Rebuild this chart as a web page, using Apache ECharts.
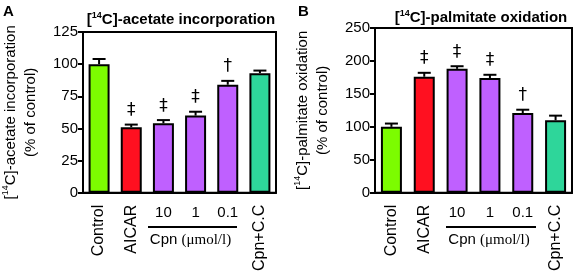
<!DOCTYPE html>
<html>
<head>
<meta charset="utf-8">
<script src="https://cdn.jsdelivr.net/npm/echarts@6/dist/echarts.min.js"></script>
<style>
  html, body { margin: 0; padding: 0; background: #fff; }
  #chart { width: 576px; height: 274px; }
</style>
</head>
<body>
<div id="chart"></div>
<script>
// categories (Cpn doses shown as horizontal labels under a bracket)
const categories = ['Control', 'AICAR', '10', '1', '0.1', 'Cpn+C.C'];
const cpnDoses = ['10', '1', '0.1'];
const barColors = ['#7cfc00', '#ff1020', '#bf60ff', '#bf60ff', '#bf60ff', '#2ed69a'];

// panel A: acetate incorporation (% of control)
const acetateMean = [100, 51, 54, 60, 84, 93];
const acetateErr = [4, 2, 2.5, 3, 3, 2];
const acetateMark = ['', '‡', '‡', '‡', '†', ''];
const acetateTicks = [0, 25, 50, 75, 100, 125];

// panel B: palmitate oxidation (% of control)
const palmitateMean = [100, 176, 188, 174, 121, 110];
const palmitateErr = [5, 6, 4, 5, 5, 7];
const palmitateMark = ['', '‡', '‡', '‡', '†', ''];
const palmitateTicks = [0, 50, 100, 150, 200, 250];

const FONT = 'Liberation Sans, Arial, sans-serif';

const chart = echarts.init(document.getElementById('chart'));

// 标题里的上标 14
const supRich = {
  b: { fontSize: 15, fontWeight: 'bold', fontFamily: FONT, color: '#000', lineHeight: 18 },
  s: { fontSize: 9, fontWeight: 'bold', fontFamily: FONT, color: '#000', verticalAlign: 'top', lineHeight: 18 },
};
const nameRich = {
  n: { fontSize: 15, fontFamily: FONT, color: '#000', lineHeight: 20 },
  s: { fontSize: 9, fontFamily: FONT, color: '#000', verticalAlign: 'top', lineHeight: 20 },
};

function bars(mean, gridIdx) {
  return {
    type: 'bar',
    xAxisIndex: gridIdx * 2,
    yAxisIndex: gridIdx,
    barWidth: 21,
    data: mean.map((v, i) => ({
      value: v,
      itemStyle: { color: barColors[i], borderColor: '#000', borderWidth: 2 },
    })),
    z: 2,
  };
}

function errors(mean, err, mark, gridIdx) {
  return {
    type: 'custom',
    xAxisIndex: gridIdx * 2,
    yAxisIndex: gridIdx,
    z: 3,
    data: mean.map((v, i) => [i, v, err[i], mark[i]]),
    renderItem: (params, api) => {
      const i = api.value(0);
      const base = api.coord([i, api.value(1)]);
      const top = api.coord([i, api.value(1) + api.value(2)]);
      const m = mean.length ? mark[i] : '';
      const children = [
        { type: 'line', shape: { x1: base[0], y1: base[1], x2: top[0], y2: top[1] }, style: { stroke: '#000', lineWidth: 2 } },
        { type: 'line', shape: { x1: top[0] - 6.5, y1: top[1], x2: top[0] + 6.5, y2: top[1] }, style: { stroke: '#000', lineWidth: 2 } },
      ];
      if (m) {
        children.push({
          type: 'text',
          style: {
            text: m, x: top[0], y: top[1] - 14,
            align: 'center', verticalAlign: 'middle',
            fontSize: 17, fontFamily: 'DejaVu Sans, sans-serif', fill: '#000',
          },
        });
      }
      return { type: 'group', children };
    },
  };
}

function xAxes(gridIdx) {
  return [
    {
      type: 'category',
      gridIndex: gridIdx,
      data: categories,
      axisLine: { lineStyle: { color: '#000', width: 2 } },
      axisTick: { alignWithLabel: true, interval: 0, length: 5, lineStyle: { color: '#000', width: 2 } },
      axisLabel: {
        interval: 0, rotate: 90, margin: 12,
        fontSize: 16, fontFamily: FONT, color: '#000',
        formatter: (v) => (cpnDoses.includes(v) ? '' : v),
      },
    },
    {
      type: 'category',
      gridIndex: gridIdx,
      position: 'bottom',
      data: categories,
      axisLine: { show: false },
      axisTick: { show: false },
      axisLabel: {
        interval: 0, margin: 13,
        fontSize: 15, fontFamily: FONT, color: '#000',
        formatter: (v) => (cpnDoses.includes(v) ? v : ''),
      },
    },
  ];
}

function yAxis(gridIdx, ticks, nameLine1) {
  return {
    type: 'value',
    gridIndex: gridIdx,
    min: ticks[0],
    max: ticks[ticks.length - 1],
    interval: ticks[1] - ticks[0],
    name: '{n|[}{s|14}{n|C]-' + nameLine1 + '}\n{n|(% of control)}',
    nameLocation: 'middle',
    nameGap: 42,
    nameRotate: 90,
    nameTextStyle: { rich: nameRich },
    axisLine: { show: true, lineStyle: { color: '#000', width: 2 } },
    axisTick: { show: true, length: 5, lineStyle: { color: '#000', width: 2 } },
    axisLabel: { fontSize: 15, fontFamily: FONT, color: '#000', margin: 5 },
    splitLine: { show: false },
  };
}

function cpnBracket(x1, x2) {
  return [
    { type: 'line', shape: { x1, y1: 227, x2, y2: 227 }, style: { stroke: '#000', lineWidth: 2 } },
    {
      type: 'text',
      style: {
        text: '{a|Cpn }{b|(μmol/l)}',
        x: (x1 + x2) / 2 - 2, y: 240,
        align: 'center', verticalAlign: 'middle',
        rich: {
          a: { fontSize: 15, fontFamily: FONT, fill: '#000' },
          b: { fontSize: 15, fontFamily: 'Liberation Serif, serif', fill: '#000' },
        },
      },
    },
  ];
}

const option = {
  animation: false,
  backgroundColor: '#fff',
  title: [
    { text: '{b|[}{s|14}{b|C]-acetate incorporation}', left: 176, top: 6, textAlign: 'center', textStyle: { rich: supRich } },
    { text: '{b|[}{s|14}{b|C]-palmitate oxidation}', left: 476, top: 4, textAlign: 'center', textStyle: { rich: supRich } },
  ],
  grid: [
    { left: 77, top: 32, width: 199, height: 164, show: true, borderColor: '#000', borderWidth: 2, backgroundColor: 'transparent' },
    { left: 375, top: 28, width: 197, height: 169, show: true, borderColor: '#000', borderWidth: 2, backgroundColor: 'transparent' },
  ],
  xAxis: [...xAxes(0), ...xAxes(1)],
  yAxis: [
    yAxis(0, acetateTicks, 'acetate incorporation'),
    yAxis(1, palmitateTicks, 'palmitate oxidation'),
  ],
  series: [
    bars(acetateMean, 0),
    errors(acetateMean, acetateErr, acetateMark, 0),
    bars(palmitateMean, 1),
    errors(palmitateMean, palmitateErr, palmitateMark, 1),
  ],
  graphic: [
    { type: 'text', style: { text: 'A', x: 3, y: 4, fontSize: 15, fontWeight: 'bold', fontFamily: FONT, fill: '#000' } },
    { type: 'text', style: { text: 'B', x: 298, y: 4, fontSize: 15, fontWeight: 'bold', fontFamily: FONT, fill: '#000' } },
    ...cpnBracket(148, 237),
    ...cpnBracket(446, 536),
  ],
};

chart.setOption(option);
</script>
</body>
</html>
